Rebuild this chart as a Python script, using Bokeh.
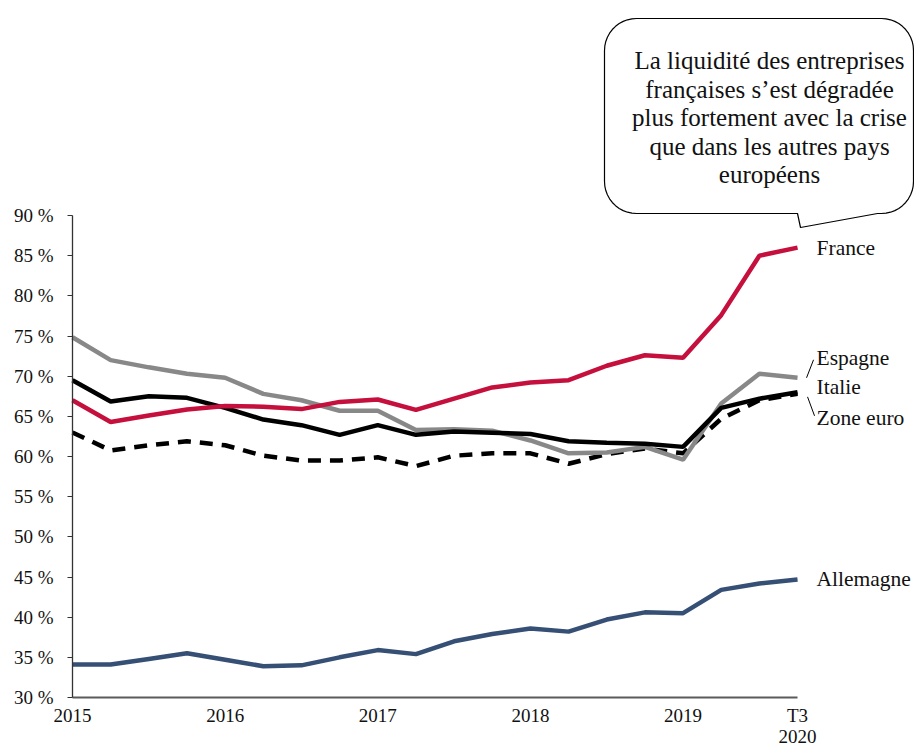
import numpy as np
from bokeh.plotting import figure
from bokeh.models import Range1d, FixedTicker, ColumnDataSource
from bokeh.core.properties import value
from bokeh.embed import file_html
from bokeh.resources import INLINE

# ---------------- data ----------------
periods = ["2015T4", "2016T1", "2016T2", "2016T3", "2016T4", "2017T1", "2017T2", "2017T3",
           "2017T4", "2018T1", "2018T2", "2018T3", "2018T4", "2019T1", "2019T2", "2019T3",
           "2019T4", "2020T1", "2020T2", "2020T3"]
france = [67.0, 64.3, 65.1, 65.85, 66.3, 66.2, 65.9, 66.8, 67.1, 65.8, 67.2, 68.6, 69.2,
          69.5, 71.3, 72.6, 72.3, 77.6, 85.0, 86.0]
espagne = [74.85, 72.0, 71.1, 70.3, 69.8, 67.8, 67.0, 65.7, 65.7, 63.3, 63.4, 63.2, 62.0,
           60.4, 60.5, 61.2, 59.6, 66.6, 70.3, 69.8]
italie = [69.5, 66.85, 67.5, 67.3, 66.05, 64.6, 63.9, 62.7, 63.9, 62.7, 63.1, 62.95, 62.8,
          61.9, 61.7, 61.6, 61.2, 66.05, 67.2, 68.0]
zone_euro = [63.0, 60.75, 61.4, 61.9, 61.4, 60.1, 59.5, 59.5, 59.9, 58.8, 60.1, 60.4, 60.4,
             59.1, 60.3, 61.0, 60.4, 64.7, 67.0, 67.8]
allemagne = [34.1, 34.1, 34.8, 35.5, 34.7, 33.9, 34.0, 35.0, 35.9, 35.4, 37.0, 37.9, 38.6,
             38.2, 39.7, 40.6, 40.5, 43.4, 44.2, 44.7]

x_tick_pos = [0, 4, 8, 12, 16, 19]
x_tick_labels = ["2015", "2016", "2017", "2018", "2019", "T3\n2020"]
y_ticks = [30, 35, 40, 45, 50, 55, 60, 65, 70, 75, 80, 85, 90]
y_tick_labels = ["30 %", "35 %", "40 %", "45 %", "50 %", "55 %", "60 %", "65 %", "70 %",
                 "75 %", "80 %", "85 %", "90 %"]

callout_lines = ["La liquidité des entreprises", "françaises s\u2019est dégradée",
                 "plus fortement avec la crise", "que dans les autres pays", "européens"]

# ---------------- geometry helpers (pixel -> data) ----------------
W, H = 914, 745
X0, DX = 72, 38.16      # pixel of first quarter, pixels per quarter
Y0, DY = 697, 8.033     # pixel of 30 %, pixels per percentage point


def dx(px):
    return (px - X0) / DX


def dy(py):
    return 30 + (Y0 - py) / DY


FONT = value("Liberation Serif")
xs = list(range(len(periods)))

p = figure(width=W, height=H, output_backend="svg", toolbar_location=None,
           x_range=Range1d(dx(0), dx(W)), y_range=Range1d(dy(H), dy(0)),
           min_border_left=0, min_border_right=0, min_border_top=0,
           min_border_bottom=0)
p.outline_line_color = None
p.xgrid.visible = False
p.ygrid.visible = False
p.background_fill_color = "white"
p.border_fill_color = "white"

# axes
p.xaxis.fixed_location = 30
p.xaxis.bounds = (0, len(periods) - 1)
p.xaxis.ticker = FixedTicker(ticks=x_tick_pos)
p.xaxis.major_label_overrides = {k: v for k, v in zip(x_tick_pos, x_tick_labels)}
p.xaxis.major_tick_out = 0
p.xaxis.major_tick_in = 0
p.xaxis.minor_tick_line_color = None
p.xaxis.axis_line_color = "#5a5a5a"
p.xaxis.axis_line_width = 2
p.xaxis.major_label_standoff = 7
p.xaxis.major_label_text_font = "Liberation Serif"
p.xaxis.major_label_text_font_size = "19px"
p.xaxis.major_label_text_color = "#111111"
p.xaxis.major_label_text_line_height = 1.0

p.yaxis.fixed_location = 0
p.yaxis.bounds = (30, 90)
p.yaxis.ticker = FixedTicker(ticks=y_ticks)
p.yaxis.major_label_overrides = {k: v for k, v in zip(y_ticks, y_tick_labels)}
p.yaxis.major_tick_out = 5
p.yaxis.major_tick_in = 0
p.yaxis.major_tick_line_color = "#333333"
p.yaxis.minor_tick_line_color = None
p.yaxis.axis_line_color = "#333333"
p.yaxis.axis_line_width = 1.3
p.yaxis.major_label_standoff = 14
p.yaxis.major_label_text_font = "Liberation Serif"
p.yaxis.major_label_text_font_size = "19px"
p.yaxis.major_label_text_color = "#111111"

# series
LW = 4.5
p.line(xs, allemagne, line_color="#354f75", line_width=LW)
p.line(xs, zone_euro, line_color="black", line_width=LW, line_dash="13 9")
p.line(xs, espagne, line_color="#888888", line_width=LW)
p.line(xs, italie, line_color="black", line_width=LW)
p.line(xs, france, line_color="#c50f3c", line_width=LW)

# end labels
last = len(periods) - 1
lab = ColumnDataSource(dict(
    x=[last] * 5,
    y=[france[-1], espagne[-1], italie[-1], zone_euro[-1], allemagne[-1]],
    text=["France", "Espagne", "Italie", "Zone euro", "Allemagne"],
    yo=[0, -20, -5, 24, 0],
))
p.text(x="x", y="y", text="text", y_offset="yo", x_offset=19, source=lab,
       text_font=FONT, text_font_size="21.5px", text_baseline="middle",
       text_align="left", text_color="#111111")

# leader lines
p.segment(x0=[last + 9 / DX, last + 10 / DX], y0=[espagne[-1], zone_euro[-1] - 3 / DY],
          x1=[last + 16 / DX, last + 17 / DX], y1=[espagne[-1] + 18 / DY, zone_euro[-1] - 22 / DY],
          line_color="black", line_width=1)

# callout box (pixel geometry)
L, R, T, B, r = 604, 913, 18, 213, 32


def arc(cx, cy, a0, a1, n=12):
    a = np.linspace(np.radians(a0), np.radians(a1), n)
    return list(cx + r * np.cos(a)), list(cy + r * np.sin(a))


px, py = [], []
for (cx, cy, a0, a1) in [(R - r, T + r, -90, 0), (R - r, B - r, 0, 90)]:
    ax_, ay_ = arc(cx, cy, a0, a1)
    px += ax_
    py += ay_
px += [877, 800, 797]
py += [B, 227, B]
for (cx, cy, a0, a1) in [(L + r, B - r, 90, 180), (L + r, T + r, 180, 270)]:
    ax_, ay_ = arc(cx, cy, a0, a1)
    px += ax_
    py += ay_
p.patch([dx(v) for v in px], [dy(v) for v in py], fill_color="white",
        line_color="black", line_width=1.2)

cy0, step = 60, 28.5
p.text(x=[dx(769)] * len(callout_lines),
       y=[dy(cy0 + i * step) for i in range(len(callout_lines))],
       text=callout_lines, text_font=FONT, text_font_size="25px",
       text_align="center", text_baseline="middle", text_color="#111111")

open("out.html", "w").write(file_html(p, INLINE))
